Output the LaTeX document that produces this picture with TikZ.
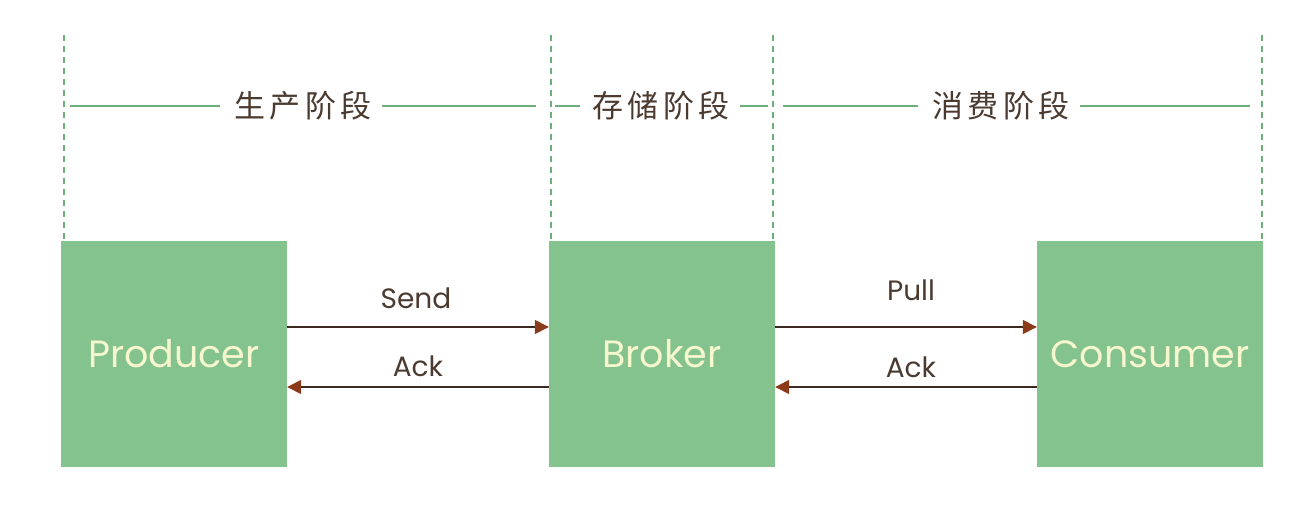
\documentclass[tikz,border=0pt]{standalone}
\usepackage{fontspec}
\setmainfont{Poppins}
\newfontfamily\cjk[LetterSpace=15]{Noto Sans CJK SC}
\usetikzlibrary{arrows.meta}
\definecolor{boxgreen}{HTML}{84C28E}
\definecolor{linegreen}{HTML}{6BB07A}
\definecolor{cream}{HTML}{F6F7CF}
\definecolor{brownline}{HTML}{3C2A22}
\definecolor{tipbrown}{HTML}{8B3A1A}
\definecolor{textbrown}{HTML}{4A3A30}
\tikzset{
  stagebox/.style={fill=boxgreen, draw=none, minimum width=226pt, minimum height=226pt, inner sep=0pt, text=cream, font=\fontsize{38}{42}\selectfont},
  divider/.style={draw=linegreen, line width=1.6pt, dash pattern=on 6pt off 5pt},
  stageline/.style={draw=linegreen, line width=2pt},
  stagelabel/.style={text=textbrown, font=\cjk\fontsize{31}{34}\selectfont, inner sep=0pt},
  msg/.style={draw=brownline, line width=1.4pt, -{Triangle[length=14pt,width=14pt,fill=tipbrown,color=tipbrown]}},
  msglabel/.style={text=textbrown, font=\fontsize{28}{32}\selectfont, inner sep=0pt}
}
\begin{document}
\begin{tikzpicture}[x=1pt,y=-1pt]
\useasboundingbox (0,0) rectangle (1304,514);
% dashed dividers
\coordinate (d1t) at (64,35);  \coordinate (d1b) at (64,241);
\coordinate (d2t) at (551,35); \coordinate (d2b) at (551,241);
\coordinate (d3t) at (773,35); \coordinate (d3b) at (773,241);
\coordinate (d4t) at (1262,35); \coordinate (d4b) at (1262,241);
\draw[divider] (d1t) -- (d1b);
\draw[divider] (d2t) -- (d2b);
\draw[divider] (d3t) -- (d3b);
\draw[divider] (d4t) -- (d4b);
% stage labels
\node[stagelabel] (s1) at (303,106) {生产阶段};
\node[stagelabel] (s2) at (661,106) {存储阶段};
\node[stagelabel] (s3) at (1001,106) {消费阶段};
\coordinate (l1a) at (70,106); \coordinate (l1b) at (536,106);
\coordinate (l2a) at (555,106); \coordinate (l2b) at (768,106);
\coordinate (l3a) at (783,106); \coordinate (l3b) at (1250,106);
\draw[stageline] (l1a) -- ([xshift=-14pt]s1.west);
\draw[stageline] ([xshift=10pt]s1.east) -- (l1b);
\draw[stageline] (l2a) -- ([xshift=-12pt]s2.west);
\draw[stageline] ([xshift=10pt]s2.east) -- (l2b);
\draw[stageline] (l3a) -- ([xshift=-14pt]s3.west);
\draw[stageline] ([xshift=10pt]s3.east) -- (l3b);
% boxes
\node[stagebox] (prod) at (174,354) {Producer};
\node[stagebox] (brok) at (662,354) {Broker};
\node[stagebox] (cons) at (1150,354) {Consumer};
% messages
\draw[msg] (prod.east |- 0,327) -- (brok.west |- 0,327);
\draw[msg] (brok.west |- 0,387) -- (prod.east |- 0,387);
\draw[msg] (brok.east |- 0,327) -- (cons.west |- 0,327);
\draw[msg] (cons.west |- 0,387) -- (brok.east |- 0,387);
\node[msglabel] (send) at (416,298) {Send};
\node[msglabel] (ack1) at (418,366) {Ack};
\node[msglabel] (pull) at (911,290) {Pull};
\node[msglabel] (ack2) at (911,367) {Ack};
\end{tikzpicture}
\end{document}
